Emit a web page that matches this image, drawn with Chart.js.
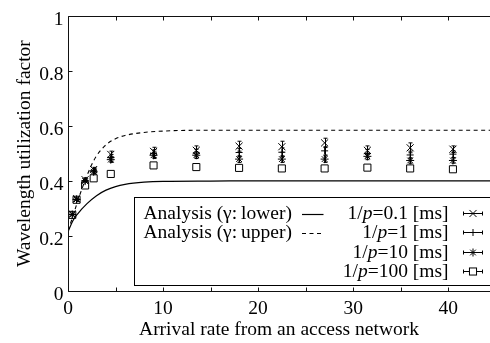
<!DOCTYPE html>
<html>
<head>
<meta charset="utf-8">
<script src="https://cdn.jsdelivr.net/npm/chart.js@4.4.1/dist/chart.umd.min.js"></script>
<style>
  html, body { margin: 0; padding: 0; background: #fff; overflow: hidden; }
  canvas { display: block; }
</style>
</head>
<body>
<canvas id="c" width="490" height="343"></canvas>
<script>
// Simulated utilization per arrival rate, one array per holding time 1/p
const arrivalRates = [0.45, 0.9, 1.8, 2.7, 4.5, 9, 13.5, 18, 22.5, 27, 31.5, 36, 40.5];
const util01  = [0.280, 0.336, 0.405, 0.442, 0.497, 0.508, 0.512, 0.527, 0.525, 0.539, 0.512, 0.521, 0.516];
const util1   = [0.279, 0.334, 0.402, 0.438, 0.485, 0.500, 0.502, 0.504, 0.505, 0.510, 0.500, 0.495, 0.498];
const util10  = [0.278, 0.333, 0.400, 0.434, 0.478, 0.494, 0.494, 0.480, 0.480, 0.480, 0.490, 0.475, 0.475];
const util100 = [0.277, 0.332, 0.384, 0.410, 0.426, 0.457, 0.451, 0.448, 0.446, 0.446, 0.449, 0.446, 0.443];
// Half-widths of the confidence intervals
const err01  = [0.004, 0.005, 0.006, 0.008, 0.012, 0.015, 0.016, 0.018, 0.020, 0.017, 0.016, 0.018, 0.012];
const err1   = [0.004, 0.005, 0.006, 0.008, 0.012, 0.014, 0.014, 0.015, 0.016, 0.015, 0.015, 0.014, 0.012];
const err10  = [0.004, 0.005, 0.006, 0.008, 0.010, 0.012, 0.012, 0.012, 0.012, 0.012, 0.012, 0.010, 0.010];
const err100 = [0.003, 0.004, 0.005, 0.006, 0.006, 0.008, 0.007, 0.007, 0.007, 0.007, 0.007, 0.007, 0.007];

// Analytical bounds
const lowerX = [0, 0.5, 1, 2, 3, 4, 5, 6, 8, 10, 15, 20, 30, 45];
const lowerY = [0.215, 0.255, 0.280, 0.318, 0.347, 0.367, 0.380, 0.388, 0.396, 0.399, 0.400, 0.401, 0.401, 0.401];
const upperX = [0, 0.5, 1, 1.5, 2, 2.5, 3, 4, 5, 6, 8, 10, 15, 45];
const upperY = [0.220, 0.270, 0.325, 0.375, 0.420, 0.460, 0.492, 0.532, 0.554, 0.566, 0.577, 0.582, 0.585, 0.585];

const analysisLabels = ['Analysis (\u03B3:\u2009lower)', 'Analysis (\u03B3:\u2009upper)'];
const simLabels = ['1/p=0.1 [ms]', '1/p=1 [ms]', '1/p=10 [ms]', '1/p=100 [ms]'];

const xTickValues = [0, 5, 10, 15, 20, 25, 30, 35, 40];
const xTickLabels = ['0', '', '10', '', '20', '', '30', '', '40'];
const yTickValues = [0, 0.2, 0.4, 0.6, 0.8, 1];
const yTickLabels = ['0', '0.2', '0.4', '0.6', '0.8', '1'];
const X_MAX = 44.4;

const xTitle = 'Arrival rate from an access network';
const yTitle = 'Wavelength utilization factor';

const FONT = "'Liberation Serif', 'Times New Roman', serif";
Chart.defaults.font.family = FONT;
Chart.defaults.font.size = 19.5;
Chart.defaults.color = '#000';

const toPts = (xs, ys) => xs.map((x, i) => ({ x: x, y: ys[i] }));

function simSet(label, ys, errs, style, radius, fill) {
  return {
    label: label, data: toPts(arrivalRates, ys), errors: errs,
    showLine: false, pointStyle: style, pointRadius: radius,
    pointBorderColor: '#000', pointBackgroundColor: fill || '#000',
    pointBorderWidth: 1, borderColor: '#000', backgroundColor: fill || '#000'
  };
}

// Vertical error bars with short caps, drawn under the markers
const errorBars = {
  id: 'errorBars',
  beforeDatasetsDraw(chart) {
    const c = chart.ctx, xs = chart.scales.x, ys = chart.scales.y;
    c.save();
    c.strokeStyle = '#000';
    c.lineWidth = 1;
    chart.data.datasets.forEach(ds => {
      if (!ds.errors) return;
      ds.data.forEach((p, i) => {
        const px = Math.round(xs.getPixelForValue(p.x)) + 0.5;
        const y1 = ys.getPixelForValue(p.y + ds.errors[i]);
        const y2 = ys.getPixelForValue(p.y - ds.errors[i]);
        c.beginPath();
        c.moveTo(px, y1); c.lineTo(px, y2);
        c.moveTo(px - 2, y1); c.lineTo(px + 2, y1);
        c.moveTo(px - 2, y2); c.lineTo(px + 2, y2);
        c.stroke();
      });
    });
    c.restore();
  }
};

// Axis frame with inward tick marks
const frame = {
  id: 'frame',
  afterDatasetsDraw(chart) {
    const c = chart.ctx, a = chart.chartArea, xs = chart.scales.x, ys = chart.scales.y;
    const L = Math.round(a.left) + 0.5, T = Math.round(a.top) + 0.5, B = Math.round(a.bottom) + 0.5;
    const R = a.right + 2;
    c.save();
    c.strokeStyle = '#111';
    c.lineWidth = 1;
    c.beginPath();
    c.moveTo(R, T); c.lineTo(L, T); c.lineTo(L, B); c.lineTo(R, B);
    xTickValues.forEach(v => {
      const px = Math.round(xs.getPixelForValue(v)) + 0.5;
      c.moveTo(px, B); c.lineTo(px, B - 4);
      c.moveTo(px, T); c.lineTo(px, T + 4);
    });
    yTickValues.forEach(v => {
      const py = Math.round(ys.getPixelForValue(v)) + 0.5;
      c.moveTo(L, py); c.lineTo(L + 4, py);
    });
    c.stroke();
    c.restore();
  }
};

// Boxed key: analysis curves on the left, simulation markers on the right
const keyBox = {
  id: 'keyBox',
  afterDraw(chart) {
    const c = chart.ctx, a = chart.chartArea;
    const ds = chart.data.datasets;
    const left = 134.5, top = 197.5, bottom = 285.5, right = a.right + 4;
    const base0 = 218.7, step = 19.4;
    c.save();
    c.fillStyle = '#fff';
    c.fillRect(left, top, right - left, bottom - top);
    c.strokeStyle = '#000';
    c.lineWidth = 1;
    c.strokeRect(left, top, right - left, bottom - top);
    c.fillStyle = '#000';
    c.textBaseline = 'alphabetic';
    const normal = '19.5px ' + FONT, italic = 'italic 19.5px ' + FONT;

    // analysis rows
    [0, 1].forEach(i => {
      const yb = base0 + i * step;
      c.font = normal;
      c.textAlign = 'left';
      c.fillText(ds[i].label, 143.5, yb);
      const ly = Math.round(yb - 5) + 0.5;
      c.beginPath();
      c.setLineDash(ds[i].borderDash || []);
      c.lineWidth = ds[i].borderWidth;
      c.moveTo(302, ly); c.lineTo(323.5, ly);
      c.stroke();
      c.setLineDash([]);
    });

    // simulation rows, with italic p
    [2, 3, 4, 5].forEach((k, r) => {
      const yb = base0 + r * step;
      const label = ds[k].label;
      const pi = label.indexOf('p');
      const parts = [[label.slice(0, pi), normal], ['p', italic], [label.slice(pi + 1), normal]];
      let w = 0;
      parts.forEach(p => { c.font = p[1]; w += c.measureText(p[0]).width; });
      let x = 448.5 - w;
      c.textAlign = 'left';
      c.fillStyle = '#000';
      parts.forEach(p => { c.font = p[1]; c.fillText(p[0], x, yb); x += c.measureText(p[0]).width; });

      const my = Math.round(yb - 6) + 0.5, mx = 473;
      c.lineWidth = 1;
      c.strokeStyle = '#000';
      c.beginPath();
      c.moveTo(463.5, my); c.lineTo(483, my);
      c.moveTo(463.5, my - 2); c.lineTo(463.5, my + 2);
      c.moveTo(482.5, my - 2); c.lineTo(482.5, my + 2);
      c.stroke();
      if (ds[k].pointStyle === 'rect') {
        const s = ds[k].pointRadius * Math.SQRT1_2;
        c.fillStyle = ds[k].pointBackgroundColor;
        c.fillRect(mx - s, my - s, 2 * s, 2 * s);
        c.strokeRect(mx - s, my - s, 2 * s, 2 * s);
      } else {
        c.fillStyle = ds[k].pointBackgroundColor;
        Chart.helpers.drawPoint(c, { pointStyle: ds[k].pointStyle, radius: ds[k].pointRadius, rotation: 0, borderWidth: 1 }, mx, my);
      }
    });
    c.restore();
  }
};

new Chart(document.getElementById('c'), {
  type: 'scatter',
  data: {
    datasets: [
      { label: analysisLabels[0], data: toPts(lowerX, lowerY), showLine: true, borderColor: '#000',
        borderWidth: 1.2, pointRadius: 0, cubicInterpolationMode: 'monotone', fill: false },
      { label: analysisLabels[1], data: toPts(upperX, upperY), showLine: true, borderColor: '#000',
        borderWidth: 1.1, borderDash: [4, 3.5], pointRadius: 0, cubicInterpolationMode: 'monotone', fill: false },
      simSet(simLabels[0], util01, err01, 'crossRot', 5),
      simSet(simLabels[1], util1, err1, 'cross', 3.5),
      simSet(simLabels[2], util10, err10, 'star', 4),
      simSet(simLabels[3], util100, err100, 'rect', 5, '#fff')
    ]
  },
  options: {
    responsive: false,
    animation: false,
    events: [],
    layout: { autoPadding: false, padding: { top: 3.5, left: 0, right: 0, bottom: 0 } },
    plugins: { legend: { display: false }, tooltip: { enabled: false } },
    scales: {
      x: {
        type: 'linear', min: 0, max: X_MAX,
        afterBuildTicks: s => { s.ticks = xTickValues.map(v => ({ value: v })); },
        afterFit: s => { s.height = 52; },
        ticks: { callback: (v, i) => xTickLabels[i], padding: 6.4, maxRotation: 0, autoSkip: false },
        grid: { display: false, drawTicks: false },
        border: { display: false },
        title: { display: true, text: xTitle, padding: { top: 0, bottom: 1.9 } }
      },
      y: {
        type: 'linear', min: 0, max: 1,
        afterBuildTicks: s => { s.ticks = yTickValues.map(v => ({ value: v })); },
        afterFit: s => { s.width = 68; },
        ticks: { callback: (v, i) => yTickLabels[i], padding: 4.5, labelOffset: 4, autoSkip: false },
        grid: { display: false, drawTicks: false },
        border: { display: false },
        title: { display: true, text: yTitle, padding: { top: 12.7, bottom: 0 } }
      }
    }
  },
  plugins: [errorBars, frame, keyBox]
});
</script>
</body>
</html>
